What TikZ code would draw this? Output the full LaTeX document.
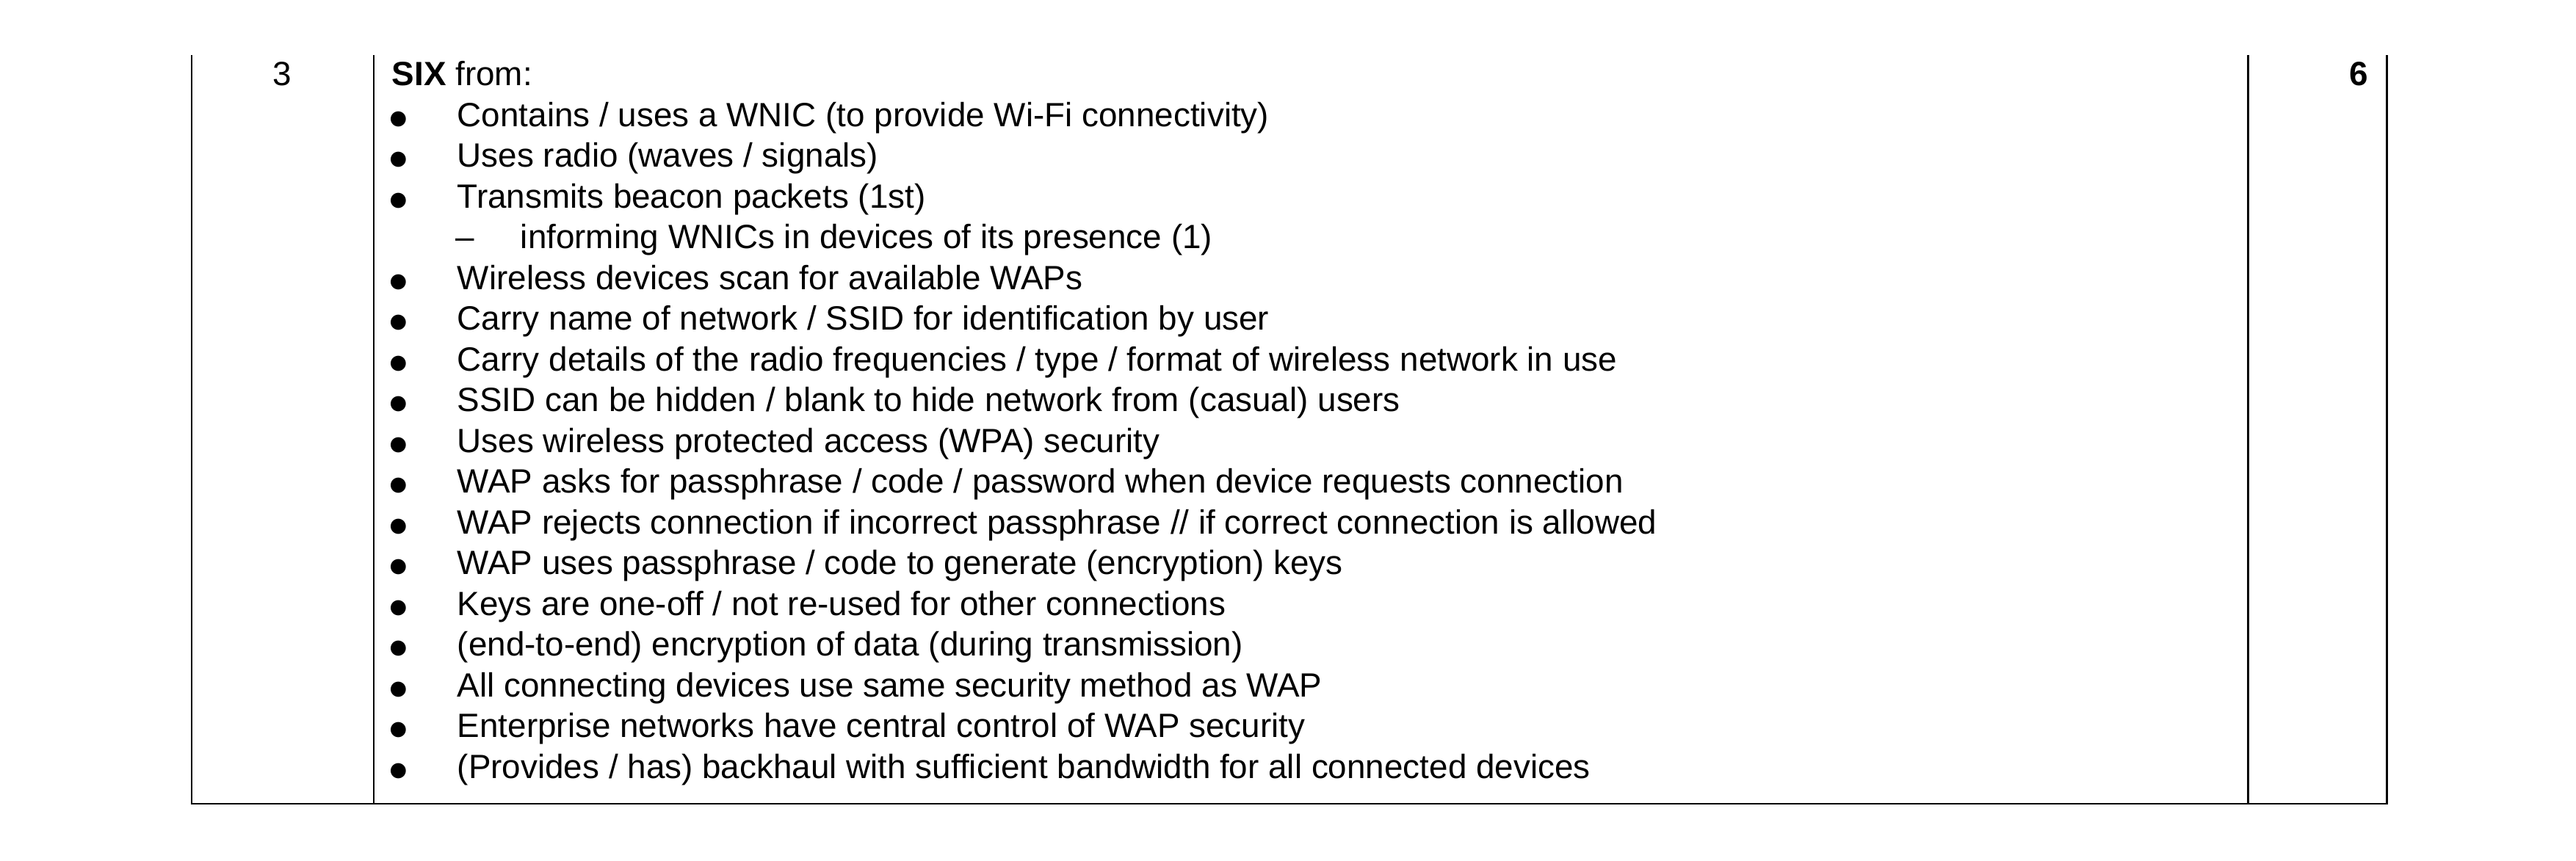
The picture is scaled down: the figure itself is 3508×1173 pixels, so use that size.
\documentclass[tikz,border=0pt]{standalone}
\usepackage{fontspec}
\setmainfont{Liberation Sans}
\newfontfamily\dotfont{DejaVu Sans}
\tikzset{
    rule/.style={line width=0.7pt},
    cell/.style={inner sep=0pt, font=\fontsize{11}{13}\selectfont},
    dotmark/.style={inner sep=0pt, anchor=base, font=\dotfont\fontsize{6.5}{7.5}\selectfont},
}
\begin{document}
\begin{tikzpicture}[x=0.24pt,y=-0.24pt]
        \useasboundingbox (0,0) rectangle (3508,1173);

        \draw[rule] (261,75) -- (261,1095) -- (3250,1095) -- (3250,75);
        \draw[rule] (509,75) -- (509,1095);
        \draw[rule] (3061,75) -- (3061,1095);

        \node[cell, anchor=base] (qnum) at (384,117) {3};
        \node[cell, anchor=base east] (marks) at (3226,117) {\textbf{6}};
        \node[cell, anchor=base west] (head) at (533,117) {\textbf{SIX} from:};
        \node[cell, anchor=base west] (dash) at (620,339) {–};
        \node[cell, anchor=base west] (sub) at (708,339) {informing WNICs in devices of its presence (1)};

        \foreach \t [count=\k] in {
            {Contains / uses a WNIC (to provide Wi-Fi connectivity)},
            {Uses radio (waves / signals)},
            {Transmits beacon packets (1st)},
            {Wireless devices scan for available WAPs},
            {Carry name of network / SSID for identification by user},
            {Carry details of the radio frequencies / type / format of wireless network in use},
            {SSID can be hidden / blank to hide network from (casual) users},
            {Uses wireless protected access (WPA) security},
            {WAP asks for passphrase / code / password when device requests connection},
            {WAP rejects connection if incorrect passphrase // if correct connection is allowed},
            {WAP uses passphrase / code to generate (encryption) keys},
            {Keys are one-off / not re-used for other connections},
            {(end-to-end) encryption of data (during transmission)},
            {All connecting devices use same security method as WAP},
            {Enterprise networks have central control of WAP security},
            {(Provides / has) backhaul with sufficient bandwidth for all connected devices}} {
            \pgfmathtruncatemacro\row{\k+(\k>3)}
            \node[dotmark] (dot\k) at (542.5,114+55.5*\row) {●};
            \node[cell, anchor=base west] (item\k) at (622,117+55.5*\row) {\t};
        }

    \end{tikzpicture}
\end{document}
